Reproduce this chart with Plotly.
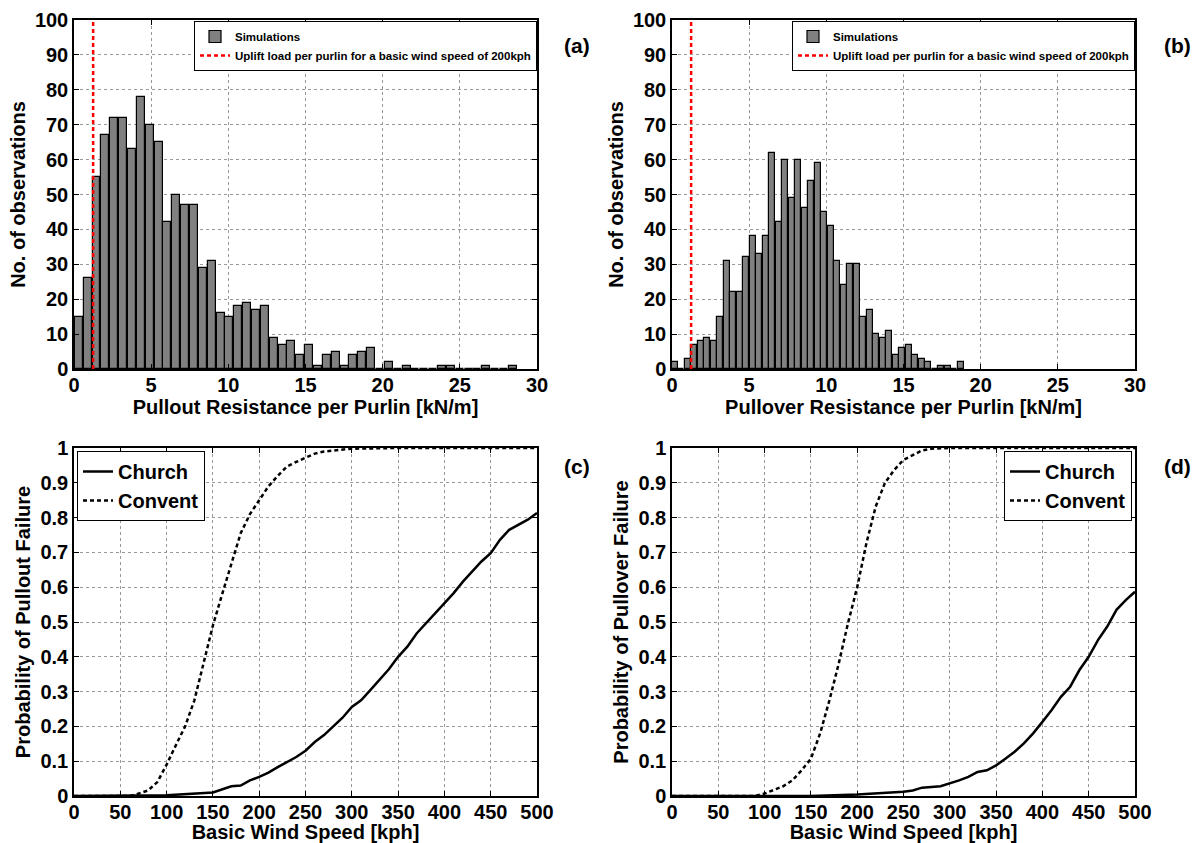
import plotly.graph_objects as go
import numpy as np

# ---- histogram data (counts per bin) ----
pullout_counts = [15, 26, 55, 67, 72, 72, 63, 78, 70, 65,
                  42, 50, 47, 47, 29, 31, 16, 15, 18, 19,
                  17, 18, 9, 7, 8, 4, 7, 1, 4, 5,
                  1, 4, 5, 6, 0, 2, 0, 1, 0, 0,
                  0, 1, 1, 0, 0, 0, 1, 0, 0, 1]
pullout_first_bin = 0.31   # centre of first bin [kN/m]
pullout_bin_width = 0.574

pullover_counts = [2, 0, 3, 7, 8, 9, 8, 15, 31, 22,
                   22, 32, 38, 33, 38, 62, 42, 60, 49, 60,
                   46, 54, 59, 45, 41, 31, 24, 30, 30, 15,
                   17, 10, 9, 11, 4, 6, 7, 4, 3, 2,
                   0, 1, 1, 0, 2]
pullover_first_bin = 0.17
pullover_bin_width = 0.4216

uplift_load = 1.24  # kN/m at 200kph

# ---- fragility curves ----
speed_c_convent = [0, 50, 60, 65, 70, 80, 90, 100, 110, 120, 130, 140, 150, 160, 170, 180,
                   190, 200, 210, 220, 230, 240, 250, 260, 270, 280, 290, 300, 350, 400, 450, 500]
prob_c_convent = [0, 0, 0, 0.003, 0.008, 0.016, 0.04, 0.09, 0.146, 0.20, 0.275, 0.38, 0.49, 0.58,
                  0.67, 0.755, 0.81, 0.85, 0.89, 0.92, 0.947, 0.96, 0.971, 0.984, 0.99, 0.993,
                  0.997, 0.998, 1, 1, 1, 1]

speed_c_church = [0, 50, 100, 150, 160, 170, 180, 190, 200, 210, 220, 230, 240, 250, 260, 270,
                  280, 290, 300, 310, 320, 330, 340, 350, 360, 370, 380, 390, 400, 410, 420,
                  430, 440, 450, 460, 470, 480, 490, 500]
prob_c_church = [0, 0, 0.002, 0.01, 0.018, 0.028, 0.03, 0.045, 0.055, 0.067, 0.083, 0.098, 0.112,
                 0.13, 0.155, 0.175, 0.199, 0.225, 0.256, 0.275, 0.304, 0.333, 0.364, 0.40,
                 0.429, 0.467, 0.496, 0.525, 0.554, 0.583, 0.616, 0.645, 0.674, 0.698, 0.736,
                 0.765, 0.779, 0.794, 0.813]

speed_d_convent = [0, 50, 90, 100, 110, 120, 130, 140, 150, 160, 170, 180, 190, 200, 210, 220,
                   230, 240, 250, 260, 270, 280, 300, 350, 400, 450, 500]
prob_d_convent = [0, 0, 0, 0.007, 0.018, 0.028, 0.045, 0.074, 0.107, 0.18, 0.275, 0.38, 0.496,
                  0.60, 0.727, 0.832, 0.90, 0.937, 0.966, 0.98, 0.993, 0.998, 1, 1, 1, 1, 1]

speed_d_church = [0, 50, 100, 150, 200, 250, 260, 270, 290, 300, 310, 320, 330, 340, 350, 360,
                  370, 380, 390, 400, 410, 420, 430, 440, 450, 460, 470, 480, 490, 500]
prob_d_church = [0, 0, 0, 0, 0.004, 0.012, 0.016, 0.024, 0.028, 0.036, 0.045, 0.055, 0.069,
                 0.074, 0.088, 0.107, 0.127, 0.151, 0.18, 0.213, 0.247, 0.285, 0.314, 0.362,
                 0.40, 0.448, 0.487, 0.535, 0.563, 0.587]

FONT = "Liberation Sans"
W, H = 1194, 843

fig = go.Figure()

def hist_panel(counts, first, width, xa, ya, legend):
    x = first + width * np.arange(len(counts))
    fig.add_trace(go.Bar(x=x, y=counts, width=width * 0.9, name="Simulations",
                         marker=dict(color="#808080", line=dict(color="black", width=1.2)),
                         xaxis=xa, yaxis=ya, legend=legend))
    fig.add_trace(go.Scatter(x=[uplift_load, uplift_load], y=[0, 100], mode="lines",
                             name="Uplift load per purlin for a basic wind speed of 200kph",
                             line=dict(color="red", width=2.5, dash="4px,3px"),
                             xaxis=xa, yaxis=ya, legend=legend))

def curve_panel(sc, pc, sv, pv, xa, ya, legend):
    fig.add_trace(go.Scatter(x=sc, y=pc, mode="lines", name="Church",
                             line=dict(color="black", width=2.5),
                             xaxis=xa, yaxis=ya, legend=legend))
    fig.add_trace(go.Scatter(x=sv, y=pv, mode="lines", name="Convent",
                             line=dict(color="black", width=2.5, dash="4px,3px"),
                             xaxis=xa, yaxis=ya, legend=legend))

hist_panel(pullout_counts, pullout_first_bin, pullout_bin_width, "x", "y", "legend")
hist_panel(pullover_counts, pullover_first_bin, pullover_bin_width, "x2", "y2", "legend2")
curve_panel(speed_c_church, prob_c_church, speed_c_convent, prob_c_convent, "x3", "y3", "legend3")
curve_panel(speed_d_church, prob_d_church, speed_d_convent, prob_d_convent, "x4", "y4", "legend4")

# panel boxes in screen pixels
left = [74, 672]
right = [537, 1135]
top_box = [20, 369]
bot_box = [448, 796]

def px(x):
    return x / W

def py(y):
    return (H - y) / H

def dom_x(i):
    return [px(left[i]), px(right[i])]

def dom_y(b):
    return [py(b[1]), py(b[0])]

axis_common = dict(showline=True, linecolor="black", linewidth=1.5, mirror="ticks",
                   ticks="inside", ticklen=5, tickcolor="black", automargin=False,
                   showgrid=True, gridcolor="#999999", griddash="dot", gridwidth=1,
                   zeroline=False, tickfont=dict(size=20, family=FONT, weight="bold", color="black"),
                   title_font=dict(size=20, family=FONT, weight="bold", color="black"))

def xax(i, rng, dt, title, anchor):
    return dict(axis_common, domain=dom_x(i), range=rng, dtick=dt, anchor=anchor,
                ticklabelstandoff=-3, title=dict(text=title, standoff=0))

def yax(b, rng, dt, title, anchor):
    return dict(axis_common, domain=dom_y(b), range=rng, dtick=dt, anchor=anchor,
                title=dict(text=title, standoff=4))

leg_font = dict(family=FONT, size=11.5, weight="bold", color="black")
leg_font_big = dict(family=FONT, size=20, weight="bold", color="black")

fig.update_layout(
    width=W, height=H,
    margin=dict(l=0, r=0, t=0, b=0),
    plot_bgcolor="white", paper_bgcolor="white",
    font=dict(family=FONT, color="black"),
    bargap=0,
    xaxis=xax(0, [0, 30], 5, "Pullout Resistance per Purlin [kN/m]", "y"),
    yaxis=yax(top_box, [0, 100], 10, "No. of observations", "x"),
    xaxis2=xax(1, [0, 30], 5, "Pullover Resistance per Purlin [kN/m]", "y2"),
    yaxis2=yax(top_box, [0, 100], 10, "No. of observations", "x2"),
    xaxis3=xax(0, [0, 500], 50, "Basic Wind Speed [kph]", "y3"),
    yaxis3=yax(bot_box, [0, 1], 0.1, "Probability of Pullout Failure", "x3"),
    xaxis4=xax(1, [0, 500], 50, "Basic Wind Speed [kph]", "y4"),
    yaxis4=yax(bot_box, [0, 1], 0.1, "Probability of Pullover Failure", "x4"),
    legend=dict(x=px(right[0]), y=py(21), xanchor="right", yanchor="top",
                bgcolor="white", bordercolor="black", borderwidth=1, font=leg_font,
                tracegroupgap=0, itemwidth=30),
    legend2=dict(x=px(right[1]), y=py(21), xanchor="right", yanchor="top",
                 bgcolor="white", bordercolor="black", borderwidth=1, font=leg_font,
                 tracegroupgap=0, itemwidth=30),
    legend3=dict(x=px(left[0] + 3), y=py(451), xanchor="left", yanchor="top",
                 bgcolor="white", bordercolor="black", borderwidth=1, font=leg_font_big,
                 itemwidth=30),
    legend4=dict(x=px(right[1] - 3), y=py(451), xanchor="right", yanchor="top",
                 bgcolor="white", bordercolor="black", borderwidth=1, font=leg_font_big,
                 itemwidth=30),
)

for txt, tx, ty in [("(a)", 577, 45), ("(b)", 1177, 45), ("(c)", 577, 466), ("(d)", 1177, 466)]:
    fig.add_annotation(text=txt, x=px(tx), y=py(ty), xref="paper", yref="paper",
                       showarrow=False, xanchor="center", yanchor="middle",
                       font=dict(family=FONT, size=21, weight="bold", color="black"))

# drop the default page margin so the figure fills the window exactly
fig.write_html("out.html", config={"displayModeBar": False},
               post_script="document.body.style.margin='0';")
